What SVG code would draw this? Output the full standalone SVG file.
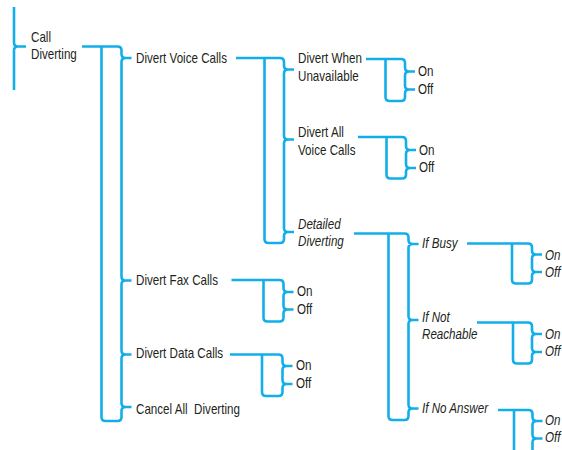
<svg xmlns="http://www.w3.org/2000/svg" width="562" height="450" viewBox="0 0 562 450">
<style>
.c{fill:none;stroke:#12AEEA;stroke-width:2.6;stroke-linecap:butt;stroke-linejoin:round}
.t{font-family:"Liberation Sans",Arial,sans-serif;font-size:14px;fill:#231F20}
.i{font-style:italic}
</style>
<rect width="562" height="450" fill="#fff"/>
<g id="connectors">
<path class="c" d="M14,7 V42.5 Q14,46.5 18,46.5 H26 M18,46.5 Q14,46.5 14,50.5 V90"/>
<path class="c" d="M82,46.5 H117.5 Q121.5,46.5 121.5,50.5 V54 Q121.5,58 125.5,58 H131.5 M125.5,58 Q121.5,58 121.5,62 V276.5 Q121.5,280.5 125.5,280.5 H131.5 M125.5,280.5 Q121.5,280.5 121.5,284.5 V350.5 Q121.5,354.5 125.5,354.5 H131.5 M125.5,354.5 Q121.5,354.5 121.5,358.5 V403 Q121.5,407 125.5,407 H131.5 M125.5,407 Q121.5,407 121.5,411 V417 Q121.5,421 117.5,421 H105.5 Q101.5,421 101.5,417 V46.5"/>
<path class="c" d="M236,58 H280 Q284,58 284,62 V65.5 Q284,69.5 288,69.5 H294 M288,69.5 Q284,69.5 284,73.5 V135.5 Q284,139.5 288,139.5 H294 M288,139.5 Q284,139.5 284,143.5 V228 Q284,232 288,232 H294 M288,232 Q284,232 284,236 V239 Q284,243 280,243 H268.5 Q264.5,243 264.5,239 V58"/>
<path class="c" d="M366,59 H401 Q405,59 405,63 V67.5 Q405,71.5 409,71.5 H415 M409,71.5 Q405,71.5 405,75.5 V85.5 Q405,89.5 409,89.5 H415 M409,89.5 Q405,89.5 405,93.5 V97 Q405,101 401,101 H389.5 Q385.5,101 385.5,97 V59"/>
<path class="c" d="M358,137 H402 Q406,137 406,141 V146 Q406,150 410,150 H416 M410,150 Q406,150 406,154 V164 Q406,168 410,168 H416 M410,168 Q406,168 406,172 V174.5 Q406,178.5 402,178.5 H390.5 Q386.5,178.5 386.5,174.5 V137"/>
<path class="c" d="M354,233.5 H404.5 Q408.5,233.5 408.5,237.5 V240 Q408.5,244 412.5,244 H418.5 M412.5,244 Q408.5,244 408.5,248 V316 Q408.5,320 412.5,320 H418.5 M412.5,320 Q408.5,320 408.5,324 V404.5 Q408.5,408.5 412.5,408.5 H418.5 M412.5,408.5 Q408.5,408.5 408.5,412.5 V416 Q408.5,420 404.5,420 H392.5 Q388.5,420 388.5,416 V233.5"/>
<path class="c" d="M467,243.5 H528 Q532,243.5 532,247.5 V250.5 Q532,254.5 536,254.5 H542 M536,254.5 Q532,254.5 532,258.5 V268 Q532,272 536,272 H542 M536,272 Q532,272 532,276 V279.5 Q532,283.5 528,283.5 H516 Q512,283.5 512,279.5 V243.5"/>
<path class="c" d="M477,322.5 H528 Q532,322.5 532,326.5 V330 Q532,334 536,334 H542 M536,334 Q532,334 532,338 V348 Q532,352 536,352 H542 M536,352 Q532,352 532,356 V359.5 Q532,363.5 528,363.5 H517 Q513,363.5 513,359.5 V322.5"/>
<path class="c" d="M498,410 H528.5 Q532.5,410 532.5,414 V417 Q532.5,421 536.5,421 H542.5 M536.5,421 Q532.5,421 532.5,425 V434.5 Q532.5,438.5 536.5,438.5 H542.5 M536.5,438.5 Q532.5,438.5 532.5,442.5 V460 M514,410 V460"/>
<path class="c" d="M231.5,280 H279.5 Q283.5,280 283.5,284 V288 Q283.5,292 287.5,292 H293.5 M287.5,292 Q283.5,292 283.5,296 V305.5 Q283.5,309.5 287.5,309.5 H293.5 M287.5,309.5 Q283.5,309.5 283.5,313.5 V317.5 Q283.5,321.5 279.5,321.5 H267.5 Q263.5,321.5 263.5,317.5 V280"/>
<path class="c" d="M230,354.5 H278.5 Q282.5,354.5 282.5,358.5 V362 Q282.5,366 286.5,366 H292.5 M286.5,366 Q282.5,366 282.5,370 V380 Q282.5,384 286.5,384 H292.5 M286.5,384 Q282.5,384 282.5,388 V392 Q282.5,396 278.5,396 H266 Q262,396 262,392 V354.5"/>
</g>
<g id="call-diverting">
<text class="t" transform="translate(31,42) scale(0.83,1)">Call</text>
<text class="t" transform="translate(31,59) scale(0.83,1)">Diverting</text>
</g>
<g id="divert-voice-calls"><text class="t" transform="translate(136,63) scale(0.83,1)">Divert Voice Calls</text></g>
<g id="divert-fax-calls"><text class="t" transform="translate(136,285) scale(0.83,1)">Divert Fax Calls</text></g>
<g id="divert-data-calls"><text class="t" transform="translate(136,358) scale(0.83,1)">Divert Data Calls</text></g>
<g id="cancel-all-diverting"><text class="t" style="white-space:pre" transform="translate(136,414) scale(0.83,1)">Cancel All  Diverting</text></g>
<g id="divert-when-unavailable">
<text class="t" transform="translate(298,63) scale(0.83,1)">Divert When</text>
<text class="t" transform="translate(298,81) scale(0.83,1)">Unavailable</text>
</g>
<g id="divert-all-voice-calls">
<text class="t" transform="translate(298,137) scale(0.83,1)">Divert All</text>
<text class="t" transform="translate(298,154.5) scale(0.83,1)">Voice Calls</text>
</g>
<g id="detailed-diverting">
<text class="t i" transform="translate(298,228.5) scale(0.83,1)">Detailed</text>
<text class="t i" transform="translate(298,246) scale(0.83,1)">Diverting</text>
</g>
<g id="unavail-on"><text class="t" transform="translate(418,76) scale(0.83,1)">On</text></g>
<g id="unavail-off"><text class="t" transform="translate(418,94) scale(0.83,1)">Off</text></g>
<g id="allvoice-on"><text class="t" transform="translate(419,154.5) scale(0.83,1)">On</text></g>
<g id="allvoice-off"><text class="t" transform="translate(419,172) scale(0.83,1)">Off</text></g>
<g id="fax-on"><text class="t" transform="translate(297,296) scale(0.83,1)">On</text></g>
<g id="fax-off"><text class="t" transform="translate(297,313.5) scale(0.83,1)">Off</text></g>
<g id="data-on"><text class="t" transform="translate(296,370) scale(0.83,1)">On</text></g>
<g id="data-off"><text class="t" transform="translate(296,388) scale(0.83,1)">Off</text></g>
<g id="if-busy"><text class="t i" transform="translate(422,247.5) scale(0.83,1)">If Busy</text></g>
<g id="if-not-reachable">
<text class="t i" transform="translate(422,322) scale(0.83,1)">If Not</text>
<text class="t i" transform="translate(422,338.5) scale(0.83,1)">Reachable</text>
</g>
<g id="if-no-answer"><text class="t i" transform="translate(422,413) scale(0.83,1)">If No Answer</text></g>
<g id="busy-on"><text class="t i" transform="translate(545,259.5) scale(0.83,1)">On</text></g>
<g id="busy-off"><text class="t i" transform="translate(545,277) scale(0.83,1)">Off</text></g>
<g id="notreach-on"><text class="t i" transform="translate(545,338.5) scale(0.83,1)">On</text></g>
<g id="notreach-off"><text class="t i" transform="translate(545,356) scale(0.83,1)">Off</text></g>
<g id="noanswer-on"><text class="t i" transform="translate(545,425) scale(0.83,1)">On</text></g>
<g id="noanswer-off"><text class="t i" transform="translate(545,442) scale(0.83,1)">Off</text></g>
</svg>
